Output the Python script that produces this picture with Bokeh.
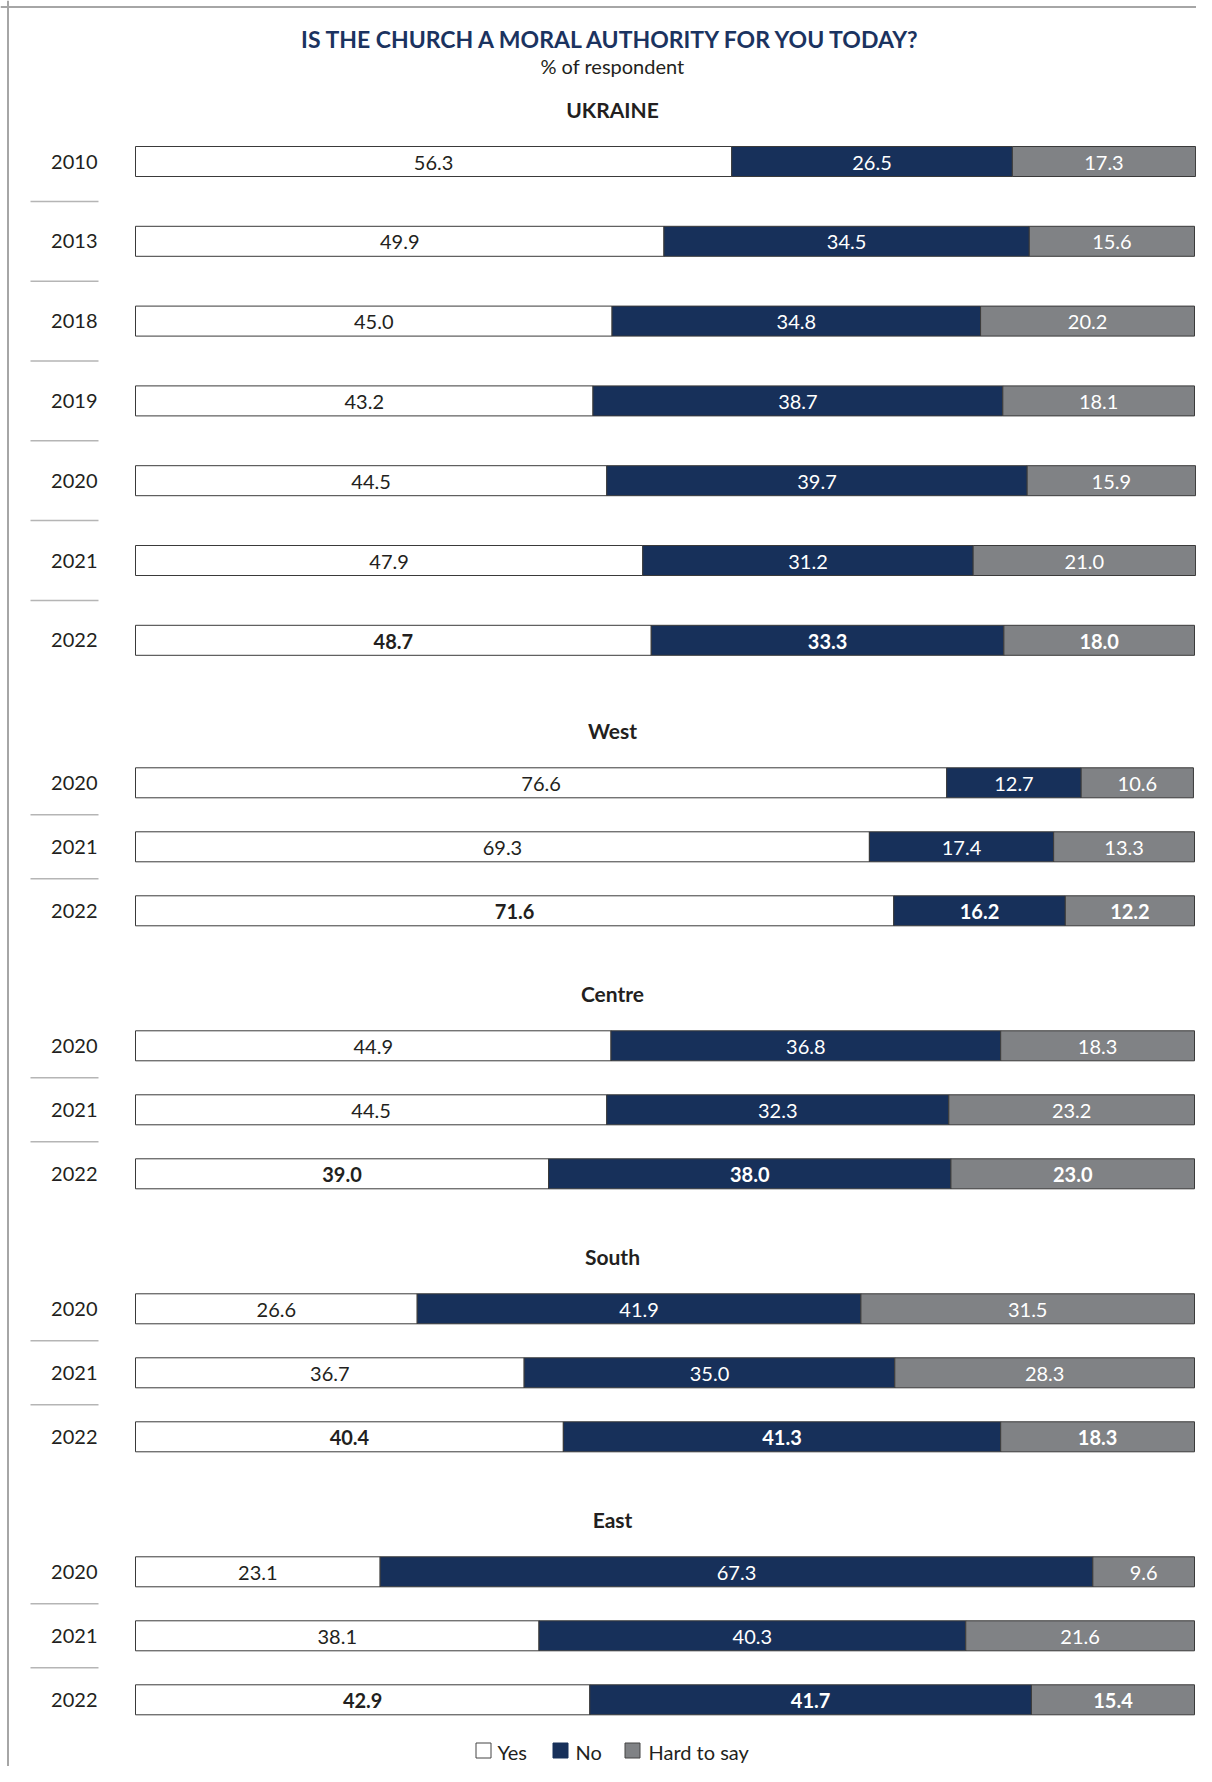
from bokeh.plotting import figure
from bokeh.models import Range1d, Span
from bokeh.core.properties import value
from bokeh.embed import file_html
from bokeh.resources import INLINE

# ---------------- data ----------------
title = "IS THE CHURCH A MORAL AUTHORITY FOR YOU TODAY?"
subtitle = "% of respondent"
categories = ["Yes", "No", "Hard to say"]

section_names = ["UKRAINE", "West", "Centre", "South", "East"]

ukraine_years = ["2010", "2013", "2018", "2019", "2020", "2021", "2022"]
ukraine_yes = [56.3, 49.9, 45.0, 43.2, 44.5, 47.9, 48.7]
ukraine_no = [26.5, 34.5, 34.8, 38.7, 39.7, 31.2, 33.3]
ukraine_hard = [17.3, 15.6, 20.2, 18.1, 15.9, 21.0, 18.0]

region_years = ["2020", "2021", "2022"]
west_yes = [76.6, 69.3, 71.6]
west_no = [12.7, 17.4, 16.2]
west_hard = [10.6, 13.3, 12.2]

centre_yes = [44.9, 44.5, 39.0]
centre_no = [36.8, 32.3, 38.0]
centre_hard = [18.3, 23.2, 23.0]

south_yes = [26.6, 36.7, 40.4]
south_no = [41.9, 35.0, 41.3]
south_hard = [31.5, 28.3, 18.3]

east_yes = [23.1, 38.1, 42.9]
east_no = [67.3, 40.3, 41.7]
east_hard = [9.6, 21.6, 15.4]

highlight_year = "2022"

# ---------------- style / layout ----------------
W, H = 1196, 1766
NAVY = "#17305a"
GREY = "#808285"
DARK = "#231f20"
fills = ["#ffffff", NAVY, GREY]
label_colors = [DARK, "#ffffff", "#ffffff"]
FONT = "Lato"

PX_LEFT = 135.0        # pixel where 0 % sits
PX_PER = 10.59         # pixels per percent


def xp(px):
    """pixel -> data x (percent)"""
    return (px - PX_LEFT) / PX_PER


p = figure(width=W, height=H, output_backend="svg", toolbar_location=None,
           x_range=Range1d(-PX_LEFT / PX_PER, (W - PX_LEFT) / PX_PER),
           y_range=Range1d(H, 0), min_border=0)
p.axis.visible = False
p.grid.visible = False
p.outline_line_color = None
p.background_fill_color = "white"
p.border_fill_color = "white"

# frame lines (top and left)
p.add_layout(Span(location=6.5, dimension="width", line_color="#a6a6a6", line_width=2))
p.add_layout(Span(location=xp(7.5), dimension="height", line_color="#a6a6a6", line_width=2))

CX = xp(612)
p.text(x=[CX], y=[38], text=[title], text_font=value(FONT),
       text_font_style="bold", text_font_size="23px", text_color="#1b3360",
       text_align="center", text_baseline="middle")
p.text(x=[CX], y=[65], text=[subtitle], text_font=value(FONT),
       text_font_size="20px", text_color=DARK,
       text_align="center", text_baseline="middle")

sections = [
    (section_names[0], ukraine_years, ukraine_yes, ukraine_no, ukraine_hard),
    (section_names[1], region_years, west_yes, west_no, west_hard),
    (section_names[2], region_years, centre_yes, centre_no, centre_hard),
    (section_names[3], region_years, south_yes, south_no, south_hard),
    (section_names[4], region_years, east_yes, east_no, east_hard),
]

header_y = 109.0
BAR_H = 30
for si, (name, years, yes, no, hard) in enumerate(sections):
    step = 79.8 if si == 0 else 64.0
    p.text(x=[CX], y=[header_y], text=[name], text_font=value(FONT),
           text_font_style="bold", text_font_size="21px", text_color=DARK,
           text_align="center", text_baseline="middle")
    ys = [header_y + 52 + i * step for i in range(len(years))]
    series = [yes, no, hard]
    left = [0.0] * len(years)
    for k, vals in enumerate(series):
        right = [l + v for l, v in zip(left, vals)]
        p.hbar(y=ys, left=left, right=right, height=BAR_H,
               fill_color=fills[k], line_color="#3a3a3a", line_width=1)
        mids = [(l + r) / 2 for l, r in zip(left, right)]
        for style in ("normal", "bold"):
            idx = [i for i, yr in enumerate(years)
                   if (yr == highlight_year) == (style == "bold")]
            if not idx:
                continue
            p.text(x=[mids[i] for i in idx], y=[ys[i] + 1 for i in idx],
                   text=[f"{vals[i]:.1f}" for i in idx],
                   text_font=value(FONT), text_font_style=style,
                   text_font_size="20px", text_color=label_colors[k],
                   text_align="center", text_baseline="middle")
        left = right
    # year labels
    p.text(x=[xp(97)] * len(years), y=ys, text=years, text_font=value(FONT),
           text_font_size="20px", text_color=DARK,
           text_align="right", text_baseline="middle")
    # separators
    seps = [(a + b) / 2 for a, b in zip(ys[:-1], ys[1:])]
    p.segment(x0=[xp(30)] * len(seps), x1=[xp(98)] * len(seps),
              y0=seps, y1=seps, line_color="#b5b5b5", line_width=1.5)
    header_y = header_y + 52 + (len(years) - 1) * step + (90.5 if si == 0 else 83)

# legend
leg_y = 1750
box_x = [xp(483), xp(560), xp(632)]
txt_x = [xp(497), xp(575), xp(648)]
p.scatter(x=box_x, y=[leg_y] * 3, marker="square", size=15,
          fill_color=fills, line_color=["#444444", NAVY, "#444444"], line_width=1)
p.text(x=txt_x, y=[leg_y + 1] * 3, text=categories, text_font=value(FONT),
       text_font_size="20px", text_color=DARK,
       text_align="left", text_baseline="middle")

open("out.html", "w").write(file_html(p, INLINE))
